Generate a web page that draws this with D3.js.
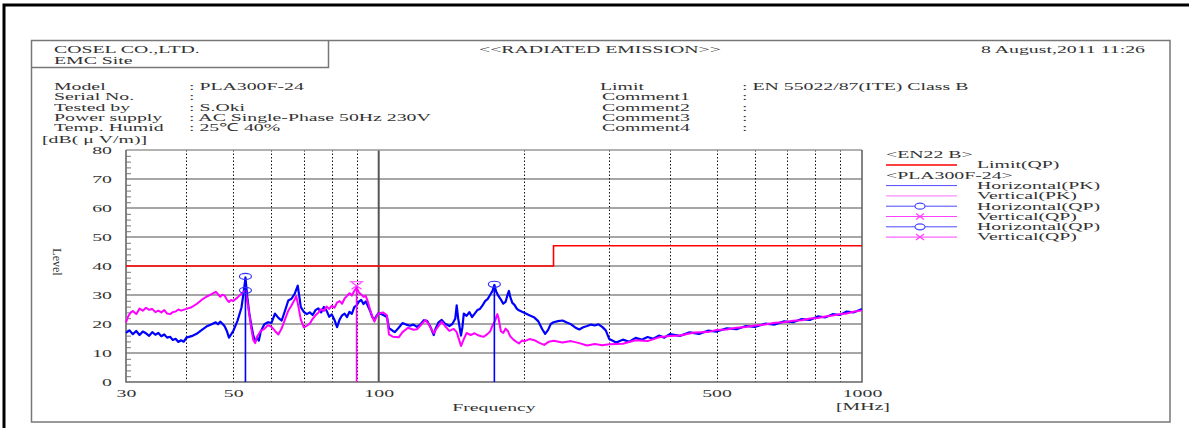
<!DOCTYPE html>
<html lang="en">
<head>
<meta charset="utf-8">
<title>RADIATED EMISSION</title>
<script src="https://cdn.jsdelivr.net/npm/d3@7"></script>
<style>
  body { margin: 0; background: #fff; }
  text { font-family: "Liberation Serif", "Times New Roman", serif; font-size: 11px; fill: #333; }
</style>
</head>
<body>
<svg id="chart" width="1189" height="428"></svg>
<script>
// ---- data ----
let yTicks = [0, 10, 20, 30, 40, 50, 60, 70, 80];
let xLabels = [30, 50, 100, 500, 1000];
let xDotted = [40, 50, 60, 70, 80, 90, 200, 300, 400, 500, 600, 700, 800, 900];

let limitFreq = [30, 230, 230, 1000];
let limitLevel = [40, 40, 47, 47];

// Horizontal(PK)
let hFreq = [30, 30.5, 31, 31.5, 32, 32.5, 33, 33.5, 34, 34.5, 35, 35.5, 36, 36.5, 37, 37.5, 38, 38.5, 39, 39.5,
  40, 41, 42, 43, 44, 45, 46, 46.5, 47, 47.5, 48, 48.5, 49, 49.5, 50, 51, 52, 52.5, 53, 53.5, 54, 54.5, 55, 55.5, 56, 56.5, 57, 58, 59,
  60, 61, 62, 63, 64, 65, 66, 67, 68, 68.5, 69, 70, 71, 72, 73, 74, 75, 76, 77, 78, 79, 80, 81, 82, 83, 84, 85, 86, 87, 88, 89,
  90, 91, 92, 93, 94, 95, 96, 97, 98, 99, 100, 102, 104, 105, 107, 108, 110, 112, 114, 116, 118, 120, 122, 124, 126, 128, 130, 131, 133, 135, 137,
  140, 142, 144, 145, 146, 148, 149, 150, 152, 154, 156, 158, 160, 162, 164, 166, 168, 170, 172, 173.5, 175, 177, 179, 181, 183, 185, 186, 187, 189,
  191, 193, 195, 198, 200, 205, 210, 214, 218, 221, 224, 227, 230, 235, 240, 245, 250, 255, 260, 265, 270, 275, 280, 285, 290, 295,
  300, 310, 320, 330, 340, 350, 360, 370, 380, 390, 400, 420, 440, 460, 480, 500, 525, 550, 575, 600, 630, 660, 690, 720, 750, 780,
  810, 840, 870, 900, 930, 960, 1000];
let hLevel = [16.9, 17.8, 16.5, 17.6, 16.2, 17.4, 16.8, 15.9, 17.2, 16.3, 16.9, 15.8, 16.4, 15.3, 15.6, 14.5, 14.9, 13.8, 14.4, 13.9,
  15.3, 15.8, 16.6, 17.9, 19.1, 19.8, 20.6, 19.9, 20.8, 20.1, 19.2, 17.6, 15.3, 16.4, 17.6, 21.0, 25.6, 30.5, 35.8, 29.0, 23.5, 19.6, 16.2, 13.9, 15.2, 14.3, 17.4, 19.9, 20.6,
  20.4, 23.6, 22.1, 21.2, 24.6, 28.1, 28.7, 30.4, 33.2, 29.5, 25.8, 24.2, 23.4, 24.0, 23.1, 24.8, 25.4, 24.0, 25.9, 24.6, 22.5, 23.3, 21.4, 18.9, 21.5, 23.0, 23.6, 22.4, 24.2, 23.5, 25.8,
  26.4, 27.7, 28.3, 26.9, 27.8, 26.2, 24.5, 22.4, 21.5, 22.9, 23.8, 23.2, 22.4, 18.6, 17.6, 17.2, 18.7, 20.3, 19.8, 19.4, 19.8, 19.0, 19.9, 21.3, 21.0, 18.9, 16.2, 18.2, 20.6, 21.4, 20.2,
  19.3, 20.0, 21.8, 26.4, 22.0, 16.0, 18.9, 23.6, 22.8, 24.1, 22.4, 23.6, 24.8, 25.2, 26.4, 27.9, 28.6, 30.0, 31.4, 33.4, 31.2, 29.6, 28.4, 27.0, 27.6, 30.4, 31.4, 29.5, 27.3,
  26.6, 25.3, 24.7, 24.2, 23.9, 23.0, 22.2, 20.9, 18.2, 16.6, 17.9, 20.0, 20.6, 21.0, 21.2, 20.5, 19.9, 18.8, 18.1, 18.9, 19.3, 19.8, 19.5, 19.9, 19.0, 17.8,
  14.8, 13.6, 14.6, 13.9, 15.2, 14.6, 15.5, 14.9, 16.0, 15.3, 16.5, 15.9, 17.1, 16.6, 17.7, 17.4, 18.5, 18.2, 19.3, 19.0, 20.1, 19.8, 20.9, 20.6, 21.7, 21.4,
  22.6, 22.3, 23.4, 23.1, 24.3, 24.0, 25.2];

// Vertical(PK)
let vFreq = [30, 30.3, 30.7, 31, 31.5, 32, 32.5, 33, 33.5, 34, 34.5, 35, 35.5, 36, 36.5, 37, 37.5, 38, 38.5, 39,
  40, 41, 42, 43, 44, 45, 46, 46.5, 47, 47.5, 48, 48.5, 49, 49.5, 50, 51, 52, 53, 53.5, 54, 54.5, 55, 55.5, 56, 57, 58, 59,
  60, 61, 62, 63, 64, 65, 66, 67, 67.5, 68, 69, 70, 71, 72, 73, 74, 75, 76, 77, 78, 79, 80, 81, 82, 83, 84, 85, 86, 87, 88, 89,
  90, 91, 92, 93, 94, 95, 96, 97, 98, 99, 100, 102, 104, 105, 107, 110, 112, 115, 118, 120, 122, 125, 127, 130, 132, 135, 137,
  140, 143, 145, 147, 148, 150, 152, 155, 158, 160, 163, 165, 168, 170, 172, 174, 176, 177, 179, 181, 183, 185, 187,
  190, 193, 195, 198, 200, 205, 210, 215, 220, 225, 230, 240, 250, 260, 270, 280, 290,
  300, 320, 340, 360, 380, 400, 420, 450, 480, 500, 525, 550, 575, 600, 630, 660, 690, 720, 750, 780,
  810, 840, 870, 900, 930, 960, 1000];
let vLevel = [20.5, 22.6, 24.0, 24.5, 23.4, 25.3, 24.6, 25.6, 24.9, 25.2, 24.1, 24.6, 24.0, 24.8, 23.6, 23.4, 24.1, 24.3, 25.0, 24.6,
  25.2, 25.8, 26.9, 28.3, 29.4, 30.2, 31.1, 30.3, 29.4, 30.1, 29.8, 28.4, 27.6, 28.3, 27.9, 29.1, 30.4, 31.6, 27.5, 23.2, 18.4, 14.6, 13.4, 15.6, 17.6, 18.3, 19.6,
  19.0, 17.6, 16.4, 18.5, 21.6, 24.6, 26.4, 28.4, 29.6, 27.2, 21.5, 18.8, 19.4, 20.1, 21.8, 23.0, 23.9, 25.1, 24.5, 26.0, 25.2, 26.3, 25.6, 27.4, 27.9, 27.0, 28.8, 29.7, 30.6, 29.8, 31.4,
  32.6, 30.9, 30.2, 29.4, 29.7, 27.6, 24.9, 22.5, 20.8, 22.6, 23.6, 24.0, 23.0, 16.4, 15.6, 15.4, 17.2, 18.7, 18.0, 18.2, 19.5, 21.4, 19.8, 16.8, 18.6, 20.8, 19.4,
  17.6, 18.3, 17.2, 14.0, 12.4, 14.8, 16.9, 16.2, 16.8, 16.2, 15.8, 15.6, 16.6, 17.4, 19.5, 21.0, 23.4, 22.0, 17.5, 16.9, 18.4, 17.6, 15.8,
  14.6, 13.8, 13.3, 14.3, 14.0, 14.8, 14.4, 13.5, 12.8, 13.9, 14.2, 13.6, 14.1, 13.4, 12.6, 13.1, 12.7,
  13.0, 13.2, 14.4, 14.1, 15.4, 15.9, 16.0, 17.1, 17.2, 17.9, 18.1, 18.7, 19.0, 19.5, 19.8, 20.4, 20.6, 21.1, 21.3, 21.9,
  22.1, 22.6, 22.9, 23.4, 23.6, 24.2, 24.7];

// QP readings
let hQP1 = [[53, 36.4], [173.5, 33.7]];
let hQP2 = [[53, 31.6]];
let vQP = [[90, 33.2]];

let infoLabelsL = ["Model", "Serial No.", "Tested by", "Power supply", "Temp. Humid"];
let infoValuesL = [": PLA300F-24", ":", ": S.Oki", ": AC Single-Phase 50Hz 230V", ": 25\u2103 40%"];
let infoLabelsR = ["Limit", "Comment1", "Comment2", "Comment3", "Comment4"];
let infoValuesR = [": EN 55022/87(ITE) Class B", ":", ":", ":", ":"];

let legendRows = [
  {head: "<EN22 B>"},
  {color: "#ff0000", mark: "", text: "Limit(QP)"},
  {head: "<PLA300F-24>"},
  {color: "#4a4aff", mark: "", text: "Horizontal(PK)"},
  {color: "#ff70ff", mark: "", text: "Vertical(PK)"},
  {color: "#4a4aff", mark: "o", text: "Horizontal(QP)"},
  {color: "#ff40ff", mark: "x", text: "Vertical(QP)"},
  {color: "#4a4aff", mark: "o", text: "Horizontal(QP)"},
  {color: "#ff40ff", mark: "x", text: "Vertical(QP)"}
];

// ---- drawing ----
let svg = d3.select("#chart");
let SX = 1.8; // report font is stretched sideways

let x = d3.scaleLog().domain([30, 1000]).range([126, 862]);
let y = d3.scaleLinear().domain([0, 80]).range([382, 150]);

function label(g, px, py, str, anchor) {
  return g.append("text")
    .attr("transform", "translate(" + px + "," + py + ") scale(" + SX + ",1)")
    .attr("text-anchor", anchor || "start")
    .text(str);
}

// frames
svg.append("path").attr("d", "M4,428 V5 H1189").attr("fill", "none").attr("stroke", "#000").attr("stroke-width", 3);
svg.append("rect").attr("x", 31.5).attr("y", 40.5).attr("width", 1138.5).attr("height", 381.5)
  .attr("fill", "none").attr("stroke", "#777").attr("stroke-width", 1.5);
svg.append("path").attr("d", "M31.5,67.5 H328.5 V40.5").attr("fill", "none").attr("stroke", "#777").attr("stroke-width", 1.5);

let head = svg.append("g");
label(head, 54, 53, "COSEL CO.,LTD.");
label(head, 54, 64, "EMC Site");
label(head, 600, 53, "<<RADIATED EMISSION>>", "middle");
label(head, 1145, 53, "8 August,2011 11:26", "end");

infoLabelsL.forEach((t, i) => label(head, 54, 90 + i * 10.3, t));
infoValuesL.forEach((t, i) => label(head, 189, 90 + i * 10.3, t));
infoLabelsR.forEach((t, i) => label(head, i ? 602 : 600, 90 + i * 10.3, t));
infoValuesR.forEach((t, i) => label(head, 742, 90 + i * 10.3, t));
label(head, 42, 143, "[dB( \u03bc V/m)]");

// grid
let plot = svg.append("g");
plot.selectAll(".hgrid").data(yTicks.filter(d => d > 0 && d < 80)).join("line")
  .attr("x1", 126).attr("x2", 862).attr("y1", d => y(d)).attr("y2", d => y(d))
  .attr("stroke", "#888").attr("stroke-width", 1.3);
plot.selectAll(".vdot").data(xDotted).join("line")
  .attr("x1", d => Math.round(x(d)) + 0.5).attr("x2", d => Math.round(x(d)) + 0.5)
  .attr("y1", 150).attr("y2", 382)
  .attr("stroke", "#111").attr("stroke-width", 1).attr("stroke-dasharray", "1.5,2");
plot.append("line").attr("x1", x(100)).attr("x2", x(100)).attr("y1", 150).attr("y2", 382)
  .attr("stroke", "#555").attr("stroke-width", 2);
plot.append("line").attr("x1", 126).attr("x2", 862).attr("y1", 150).attr("y2", 150)
  .attr("stroke", "#999").attr("stroke-width", 1.3);
plot.append("path").attr("d", "M126,150 V382 H862 V150").attr("fill", "none")
  .attr("stroke", "#666").attr("stroke-width", 1.6);

// left axis: minor ticks and labels
let minor = d3.range(0, 80, 2).filter(d => d % 10 !== 0);
let minorAxis = plot.append("g").attr("transform", "translate(126,0)")
  .call(d3.axisLeft(y).tickValues(minor).tickSize(-5).tickFormat(""));
minorAxis.select(".domain").remove();
minorAxis.selectAll("line").attr("stroke", "#777");

let yAxis = plot.append("g").attr("transform", "translate(112,0)")
  .call(d3.axisLeft(y).tickValues(yTicks).tickSize(0).tickPadding(0));
yAxis.select(".domain").remove();
yAxis.attr("font-family", null).attr("font-size", null);
yAxis.selectAll("text").attr("x", null).attr("dy", "0.35em").attr("transform", "scale(" + SX + ",1)");

let xAxis = plot.append("g").attr("transform", "translate(0,397)")
  .call(d3.axisBottom(x).tickValues(xLabels).tickFormat(d3.format("d")).tickSize(0).tickPadding(0));
xAxis.select(".domain").remove();
xAxis.attr("font-family", null).attr("font-size", null);
xAxis.selectAll("text").attr("y", null).attr("dy", null).attr("transform", "scale(" + SX + ",1)");

label(plot, 494, 411, "Frequency", "middle");
label(plot, 836, 410, "[MHz]");
plot.append("text").attr("transform", "translate(57,262) rotate(90)")
  .attr("text-anchor", "middle").attr("dy", "0.35em").style("font-size", "12px").text("Level");

// traces
let line = d3.line().x(d => x(d[0])).y(d => y(d[1]));
let traces = svg.append("g");
traces.append("path").datum(d3.zip(hFreq, hLevel)).attr("d", line)
  .attr("fill", "none").attr("stroke", "#0000ff").attr("stroke-width", 2.2).attr("stroke-linejoin", "round");
traces.append("path").datum(d3.zip(vFreq, vLevel)).attr("d", line)
  .attr("fill", "none").attr("stroke", "#ff00ff").attr("stroke-width", 2).attr("stroke-linejoin", "round");
traces.append("path").datum(d3.zip(limitFreq, limitLevel)).attr("d", line)
  .attr("fill", "none").attr("stroke", "#ff0000").attr("stroke-width", 1.6);

// QP readings: stem + marker
let stems = hQP1.map(d => ({f: d[0], v: d[1], c: "#0000ff"})).concat(vQP.map(d => ({f: d[0], v: d[1], c: "#ff00ff"})));
traces.selectAll(".stem").data(stems).join("line")
  .attr("x1", d => x(d.f)).attr("x2", d => x(d.f)).attr("y1", y(0)).attr("y2", d => y(d.v))
  .attr("stroke", d => d.c).attr("stroke-width", 1.6);
traces.selectAll(".qph").data(hQP1.concat(hQP2)).join("ellipse")
  .attr("cx", d => x(d[0])).attr("cy", d => y(d[1])).attr("rx", 6).attr("ry", 3)
  .attr("fill", "none").attr("stroke", "#3030ff").attr("stroke-width", 1.2);
function cross(g, cx, cy, w, h, c) {
  g.append("path").attr("d", "M" + (cx - w) + "," + (cy - h) + " L" + (cx + w) + "," + (cy + h) +
    " M" + (cx - w) + "," + (cy + h) + " L" + (cx + w) + "," + (cy - h))
    .attr("stroke", c).attr("stroke-width", 1.2).attr("fill", "none");
}
vQP.forEach(d => {
  cross(traces, x(d[0]), y(d[1]), 5, 3.5, "#ff40ff");
  traces.append("line").attr("x1", x(d[0]) - 7).attr("x2", x(d[0]) + 7).attr("y1", y(d[1]) - 4).attr("y2", y(d[1]) - 4)
    .attr("stroke", "#ff40ff").attr("stroke-width", 1);
});

// legend
let legend = svg.append("g");
legendRows.forEach((r, i) => {
  let by = 158 + i * 10.3;
  if (r.head) { label(legend, 886, by, r.head); return; }
  let ly = by - 3.3;
  legend.append("line").attr("x1", 886).attr("x2", 957).attr("y1", ly).attr("y2", ly)
    .attr("stroke", r.color).attr("stroke-width", i === 1 ? 1.5 : 1);
  if (r.mark === "o") legend.append("ellipse").attr("cx", 920).attr("cy", ly).attr("rx", 5).attr("ry", 3)
    .attr("fill", "#fff").attr("stroke", r.color).attr("stroke-width", 1.2);
  if (r.mark === "x") cross(legend, 920, ly, 4, 3, r.color);
  label(legend, 977, by, r.text);
});
</script>
</body>
</html>
